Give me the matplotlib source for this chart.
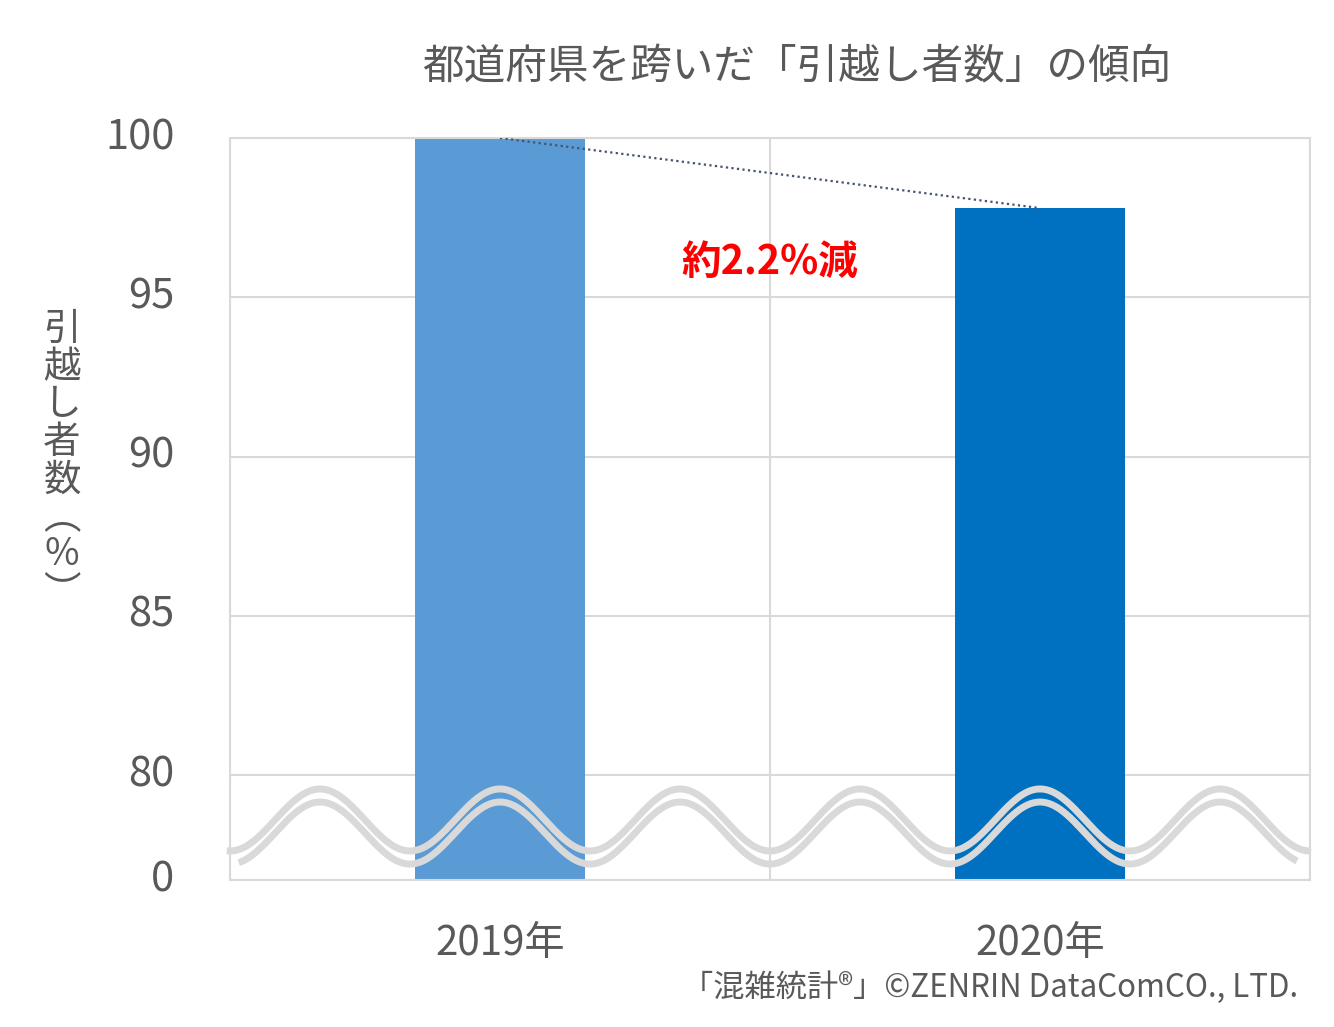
import numpy as np
import matplotlib
matplotlib.use("Agg")
import matplotlib.pyplot as plt
import matplotlib.transforms as mtransforms

plt.rcParams['font.family'] = ['Noto Sans CJK JP', 'DejaVu Sans']

# data
years = ["2019年", "2020年"]
values = [100.0, 97.8]
bar_colors = ["#5B9BD5", "#0070C0"]
yticks = [0, 80, 85, 90, 95, 100]
title = "都道府県を跨いだ「引越し者数」の傾向"
ylabel_chars = ["引", "越", "し", "者", "数", "︵", "%", "︶"]
note = "約2.2%減"
source = "「混雑統計®」©ZENRIN DataComCO., LTD."

text_gray = "#595959"
grid_gray = "#D9D9D9"

# broken axis: squeeze 0..80 into a small band
BREAK = 80.0
K = 3.29 / 80.0

def fwd(v):
    v = np.asarray(v, dtype=float)
    return np.where(v >= BREAK, v, BREAK - (BREAK - v) * K)

def inv(u):
    u = np.asarray(u, dtype=float)
    return np.where(u >= BREAK, u, BREAK - (BREAK - u) / K)

fig = plt.figure(figsize=(13.34, 10.27), dpi=100)
ax = fig.add_axes([230 / 1334, 1 - 880 / 1027, 1080 / 1334, 742 / 1027])

ax.set_yscale('function', functions=(fwd, inv))
ax.set_ylim(0, 100)
ax.set_xlim(-0.5, 1.5)

x = np.arange(len(years))
ax.bar(x, values, width=0.313, color=bar_colors, zorder=2)

# trend line between bar tops
ax.plot(x, values, linestyle=(0, (1, 1.5)), color="#44546A", linewidth=1.6, zorder=3)

ax.text(0.5, 96.1, note, color="#FF0000", fontsize=28.5, fontweight='bold',
        ha='center', va='center', zorder=4)

# grid
ax.set_yticks(yticks)
ax.set_yticklabels([str(t) for t in yticks])
ax.set_xticks(x)
ax.set_xticklabels(years)
ax.set_xticks([-0.5, 0.5, 1.5], minor=True)
ax.grid(axis='y', which='major', color=grid_gray, linewidth=1.5, zorder=0)
ax.grid(axis='x', which='minor', color=grid_gray, linewidth=1.5, zorder=0)
ax.grid(axis='x', which='major', visible=False)
ax.tick_params(axis='both', which='both', length=0)
ax.tick_params(axis='y', pad=40, labelsize=30, labelcolor=text_gray)
ax.tick_params(axis='x', pad=31, labelsize=29, labelcolor=text_gray)
shift_up = mtransforms.ScaledTranslation(0, 5 / 100, fig.dpi_scale_trans)
for lab in ax.get_yticklabels():
    lab.set_transform(lab.get_transform() + shift_up)
for s in ax.spines.values():
    s.set_color(grid_gray)
    s.set_linewidth(1.5)
ax.set_axisbelow(True)

# break marker: two wavy lines across the low band
trans = mtransforms.blended_transform_factory(ax.transData, ax.transAxes)
wx = np.linspace(-0.506, 1.502, 800)
wave = np.cos(2 * np.pi * 3 * wx)
ax.plot(wx, 0.0809 + 0.0418 * wave, color=grid_gray, linewidth=5,
        transform=trans, clip_on=False, zorder=5, solid_capstyle='butt')
wx2 = np.linspace(-0.484, 1.476, 800)
ax.plot(wx2, 0.0633 + 0.0418 * np.cos(2 * np.pi * 3 * wx2), color=grid_gray,
        linewidth=5, transform=trans, clip_on=False, zorder=5, solid_capstyle='butt')

fig.text(797 / 1334, 1 - 68 / 1027, title, fontsize=30, color=text_gray,
         ha='center', va='center')
fig.text(62 / 1334, 1 - 461 / 1027, "\n".join(ylabel_chars), fontsize=27,
         color=text_gray, ha='center', va='center', linespacing=0.95)
fig.text(1298 / 1334, 1 - 988 / 1027, source, fontsize=22.5, color=text_gray,
         ha='right', va='center')

fig.savefig("out.png", dpi=100)
